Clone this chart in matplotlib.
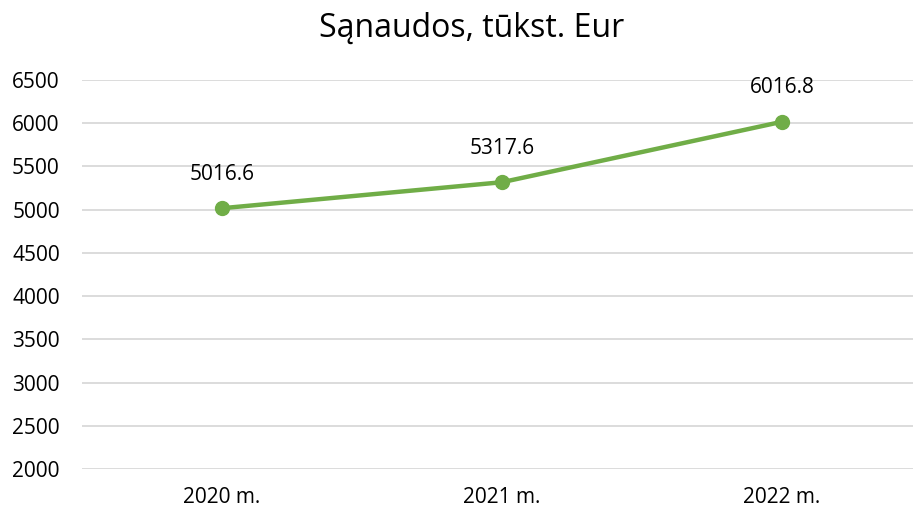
import matplotlib.pyplot as plt

years = ['2020 m.', '2021 m.', '2022 m.']
values = [5016.6, 5317.6, 6016.8]
yticks = [2000, 2500, 3000, 3500, 4000, 4500, 5000, 5500, 6000, 6500]

plt.rcParams['font.family'] = ['Open Sans', 'DejaVu Sans']

fig = plt.figure(figsize=(9.13, 5.09), dpi=100)
ax = fig.add_axes([82/913, 1-469/509, 840/913, (469-80)/509])

x = list(range(len(years)))
ax.plot(x, values, color='#70AD47', linewidth=3.2, marker='o', markersize=10,
        solid_capstyle='round', zorder=3, clip_on=False)

for xi, v in zip(x, values):
    ax.annotate(f'{v:.1f}', (xi, v), xytext=(0, 17), textcoords='offset points',
                ha='center', va='bottom', fontsize=15, color='#000000')

ax.set_xlim(-0.5, 2.5)
ax.set_ylim(2000, 6500)
ax.set_yticks(yticks)
ax.set_xticks(x)
ax.set_xticklabels(years)
ax.tick_params(axis='both', length=0, labelsize=15, colors='#000000')
ax.tick_params(axis='y', pad=16)
ax.tick_params(axis='x', pad=13)
ax.grid(axis='y', color='#D9D9D9', linewidth=1.3)
ax.set_axisbelow(True)
for s in ax.spines.values():
    s.set_visible(False)

fig.text(472/913, 1-28/509, 'Sąnaudos, tūkst. Eur', ha='center', va='center', fontsize=23)

fig.savefig('out.png', dpi=100)
